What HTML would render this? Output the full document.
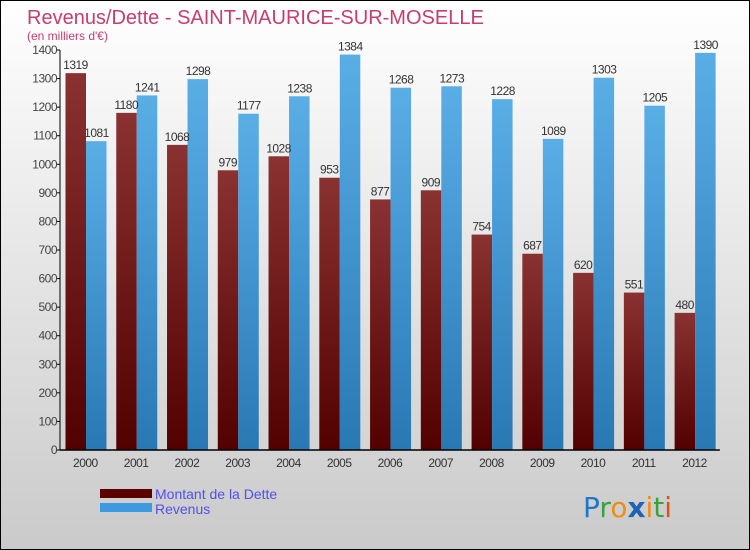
<!DOCTYPE html>
<html><head><meta charset="utf-8"><style>
body{margin:0;width:750px;height:550px;overflow:hidden}
svg{display:block;font-family:"Liberation Sans",sans-serif}
</style></head><body>
<svg id="c" width="750" height="550">
<defs>
<linearGradient id="bg" x1="0" y1="0" x2="0" y2="1"><stop offset="0" stop-color="#ffffff"/><stop offset="1" stop-color="#cacaca"/></linearGradient>
<linearGradient id="gd" x1="0" y1="0" x2="0" y2="1"><stop offset="0" stop-color="#8a3232"/><stop offset="1" stop-color="#520000"/></linearGradient>
<linearGradient id="gr" x1="0" y1="0" x2="0" y2="1"><stop offset="0" stop-color="#5aaee6"/><stop offset="1" stop-color="#2878b4"/></linearGradient>
</defs>
<rect x="0.5" y="0.5" width="749" height="549" fill="url(#bg)" stroke="#000"/>
<text x="27" y="24" font-size="20" fill="#c83c6e">Revenus/Dette - SAINT-MAURICE-SUR-MOSELLE</text>
<text x="27" y="40" font-size="12" fill="#c83c6e">(en milliers d'€)</text>
<g id="plot"></g>
<rect x="100" y="489" width="52" height="9" fill="#5a0000"/>
<rect x="100" y="503" width="52" height="9" fill="#3c9be0"/>
<text x="155" y="499" font-size="14" fill="#5050f0">Montant de la Dette</text>
<text x="155" y="514" font-size="14" fill="#5050f0">Revenus</text>
<text x="583" y="517" font-size="28" font-family="'DejaVu Sans',sans-serif"><tspan fill="#1e78c8">P</tspan><tspan fill="#3ca03c">r</tspan><tspan fill="#f08c14">o</tspan><tspan fill="#1e64b4" font-weight="bold">x</tspan><tspan fill="#f08c14">i</tspan><tspan fill="#3ca03c">t</tspan><tspan fill="#e05014">i</tspan></text>
</svg>
<script>
const years=["2000","2001","2002","2003","2004","2005","2006","2007","2008","2009","2010","2011","2012"];
const dette=[1319,1180,1068,979,1028,953,877,909,754,687,620,551,480];
const revenus=[1081,1241,1298,1177,1238,1384,1268,1273,1228,1089,1303,1205,1390];
const yTicks=[0,100,200,300,400,500,600,700,800,900,1000,1100,1200,1300,1400];
const NS="http://www.w3.org/2000/svg";
const g=document.getElementById("plot");
const x0=60,band=50.76,y0=450,yMax=1400,h=400;
const y=v=>y0-v/yMax*h;
function mk(t,a){const e=document.createElementNS(NS,t);for(const k in a)e.setAttribute(k,a[k]);g.appendChild(e);return e;}
yTicks.forEach(v=>{
 const t=mk("text",{x:x0-3,y:y(v)+4,"font-size":12,fill:"#444","text-anchor":"end","letter-spacing":"-0.5"});t.textContent=v;
 
 
 mk("line",{x1:x0-3,x2:x0,y1:y(v),y2:y(v),stroke:"#000"});
});
years.forEach((yr,i)=>{
 const bx=x0+i*band+5.5;
 const d=mk("rect",{x:bx,y:y(dette[i]),width:20.5,height:y0-y(dette[i]),fill:"url(#gd)"});
 
 
 const r=mk("rect",{x:bx+20.5,y:y(revenus[i]),width:20.5,height:y0-y(revenus[i]),fill:"url(#gr)"});
 
 
 const dl=mk("text",{x:bx+10,y:y(dette[i])-4,"font-size":12,fill:"#333","text-anchor":"middle","letter-spacing":"-0.5"});dl.textContent=dette[i];
 
 
 const rl=mk("text",{x:bx+31,y:y(revenus[i])-4,"font-size":12,fill:"#333","text-anchor":"middle","letter-spacing":"-0.5"});rl.textContent=revenus[i];
 
 
 const xl=mk("text",{x:x0+(i+0.5)*band,y:y0+17,"font-size":12,fill:"#333","text-anchor":"middle","letter-spacing":"-0.5"});xl.textContent=yr;
 
 
});
const ya=mk("line",{x1:x0,x2:x0,y1:y(yMax),y2:y0,stroke:"#000"});


const xa=mk("line",{x1:x0,x2:x0+13*band,y1:y0,y2:y0,stroke:"#000","stroke-width":1.5});


</script>
</body></html>
